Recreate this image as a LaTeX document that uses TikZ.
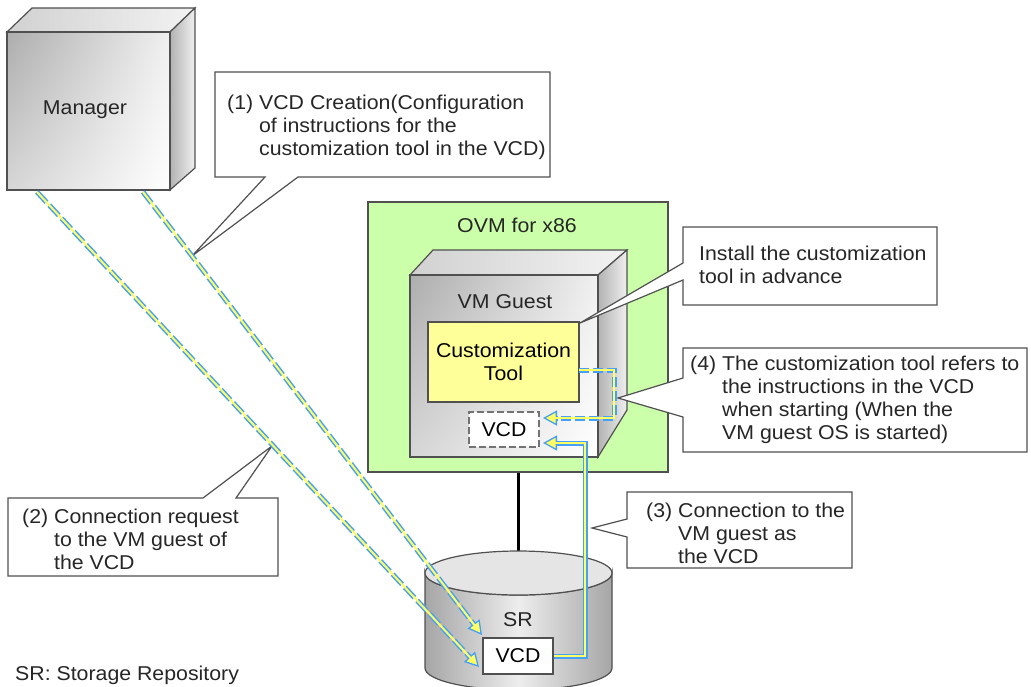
\documentclass[tikz,border=0pt]{standalone}
\usepackage{fontspec}
\setmainfont{Liberation Sans}[FakeStretch=1.065]
\usetikzlibrary{arrows.meta,shadings}
\definecolor{ovmgreen}{RGB}{204,255,170}
\definecolor{toolyellow}{RGB}{255,255,153}
\definecolor{lblue}{RGB}{70,160,245}
\definecolor{lyellow}{RGB}{255,255,100}
\definecolor{edgegray}{RGB}{80,80,80}
\newcommand\calind{\hphantom{(1) }}
\tikzset{
  txt/.style={inner sep=0pt, align=left, anchor=north west, text=black!85},
  lbl/.style={inner sep=0pt, text=black!85},
  callout/.style={fill=white, draw=edgegray, line width=1.2pt, line join=miter},
  bluedash/.style={draw=lblue, line width=5pt, dash pattern=on 14pt off 4pt},
  blueshort/.style={draw=lblue, line width=5pt, dash pattern=on 10pt off 4pt},
  bluesolid/.style={draw=lblue, line width=5pt},
  yelcore/.style={draw=lyellow, line width=2pt, shorten >=12pt},
  tipb/.style={-{Triangle[length=14pt,width=15pt,color=lblue,fill=lyellow,line width=1.3pt]}},
  frontface/.style={draw=edgegray, line width=1.2pt, shade, upper left=black!32, lower left=black!16, upper right=black!6, lower right=white, inner sep=0pt},
  topface/.style={draw=edgegray, line width=1.2pt, left color=black!18, right color=black!5},
  sideface/.style={draw=edgegray, line width=1.2pt, left color=black!30, right color=black!6},
  plainbox/.style={draw=edgegray, line width=1.2pt, fill=white, inner sep=0pt},
}
\begin{document}
\begin{tikzpicture}[x=1pt,y=-1pt,font=\fontsize{20}{23}\selectfont]
\clip (0,0) rectangle (1031,686);
\fill[white] (0,0) rectangle (1031,686);

% Manager cube
\draw[topface] (7,32) -- (32,8) -- (195,8) -- (170,32) -- cycle;
\draw[sideface] (170,32) -- (195,8) -- (195,168) -- (170,190) -- cycle;
\node[frontface, minimum width=163pt, minimum height=158pt] (mgr) at (88.5,111) {};
\node[lbl] (mgrlabel) at (85,110) {Manager};

% OVM box
\node[draw=edgegray, line width=1.2pt, fill=ovmgreen, minimum width=300pt, minimum height=270pt, inner sep=0pt] (ovm) at (518,337) {};
\node[lbl] (ovmlabel) at (517,225) {OVM for x86};

% VM Guest cube
\draw[topface] (410,275) -- (433,250) -- (627,250) -- (598,275) -- cycle;
\draw[sideface] (598,275) -- (627,250) -- (627,410) -- (598,457) -- cycle;
\node[frontface, minimum width=188pt, minimum height=182pt] (guest) at (504,366) {};
\node[lbl] (guestlabel) at (505,302) {VM Guest};

% Customization tool
\node[draw=edgegray, line width=1.2pt, fill=toolyellow, minimum width=151pt, minimum height=80pt, inner sep=0pt, align=center] (tool) at (503.5,362) {Customization\\Tool};

% VCD in guest
\node[draw=black!55, dash pattern=on 7pt off 3pt, line width=1.2pt, fill=white, minimum width=70pt, minimum height=35pt, inner sep=0pt] (vcdg) at (504,429.5) {VCD};

% SR cylinder
\coordinate (srtop) at (518,551);
\draw[line width=3pt] (ovm.south) -- (srtop);
\draw[edgegray, line width=1.2pt, left color=black!35, right color=black!35, middle color=black!7]
  (425,573) -- (425,668) arc[start angle=180,end angle=360,x radius=93.5pt,y radius=22pt]
  -- (612,573) arc[start angle=0,end angle=-180,x radius=93.5pt,y radius=22pt] -- cycle;
\draw[edgegray, line width=1.2pt, fill=black!10] (518.5,573) ellipse[x radius=93.5pt, y radius=22pt];
\node[lbl] (srlabel) at (518,620) {SR};
\node[plainbox, minimum width=70pt, minimum height=36pt] (srvcd) at (518,656) {VCD};

% Callouts
\draw[callout] (215,72) -- (550,72) -- (550,177) -- (298,177) -- (192,256) -- (265,177) -- (215,177) -- cycle;
\node[txt] (t1) at (227,95) {(1) VCD Creation(Configuration\\\calind of instructions for the\\\calind customization tool in the VCD)};

\draw[callout] (683,227) -- (937,227) -- (937,305) -- (683,305) -- (683,280) -- (580,323) -- (683,263) -- cycle;
\node[txt] (tinst) at (699,246) {Install the customization\\tool in advance};

\draw[callout] (683,348) -- (1027,348) -- (1027,452) -- (683,452) -- (683,417) -- (618,398) -- (683,378) -- cycle;
\node[txt] (t4) at (690,356) {(4) The customization tool refers to\\\calind the instructions in the VCD\\\calind when starting (When the\\\calind VM guest OS is started)};

\draw[callout] (627,492) -- (852,492) -- (852,568) -- (627,568) -- (627,537) -- (592,528) -- (627,519) -- cycle;
\node[txt] (t3) at (646,503) {(3) Connection to the\\\calind VM guest as\\\calind the VCD};

\draw[callout] (8,498) -- (203,498) -- (272,446) -- (236,498) -- (278,498) -- (278,576) -- (8,576) -- cycle;
\node[txt] (t2) at (22,509) {(2) Connection request\\\calind to the VM guest of\\\calind the VCD};

\node[lbl, anchor=west] (legend) at (15,675) {SR: Storage Repository};

% Connectors
\coordinate (s1) at (143,192);
\coordinate (e1) at (482,635);
\coordinate (s2) at (37,192);
\coordinate (e2) at (479,667);
\draw[bluedash, tipb] (s1) -- (e1);
\draw[yelcore] (s1) -- (e1);
\draw[bluedash, tipb] (s2) -- (e2);
\draw[yelcore] (s2) -- (e2);

\coordinate (c3a) at (585,443);
\coordinate (c3t) at (543,443);
\draw[bluesolid, tipb] (srvcd.east) -| (c3a) -- (c3t);
\draw[yelcore] (srvcd.east) -| (c3a) -- (c3t);

\coordinate (c4s) at (579,370);
\coordinate (c4a) at (614,370);
\coordinate (c4b) at (614,418);
\coordinate (c4t) at (543,418);
\draw[blueshort, tipb] (c4s) -- (c4a) -- (c4b) -- (c4t);
\draw[yelcore] (c4s) -- (c4a) -- (c4b) -- (c4t);
\end{tikzpicture}
\end{document}
